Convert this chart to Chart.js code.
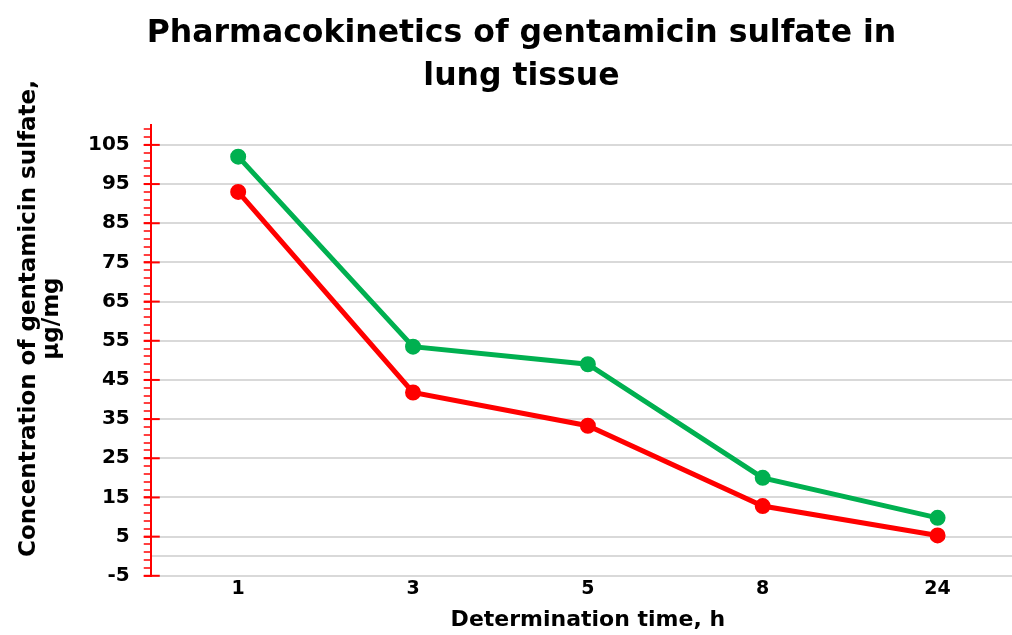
<!DOCTYPE html>
<html>
<head>
    <meta charset="utf-8">
    <script src="https://cdn.jsdelivr.net/npm/chart.js@4.4.7/dist/chart.umd.min.js"></script>
    <style>
        body { margin: 0; overflow: hidden; background: #fff; }
    </style>
</head>
<body>
    <canvas id="wykres" width="1025" height="635"></canvas>
    <script>
        // data
        const czasy = ["1", "3", "5", "8", "24"];
        const seriaZielona = [102, 53.5, 49, 20, 9.8];
        const seriaCzerwona = [93, 41.8, 33.3, 12.8, 5.3];
        const glowneTicki = [-5, 5, 15, 25, 35, 45, 55, 65, 75, 85, 95, 105];

        const FONT = "'DejaVu Sans', sans-serif";
        const SZARY = "#d9d9d9";
        const NB = "\u00A0".repeat(8); // pushes the axis title a bit up, like in the original

        // minor ticks every 2 units, plus 0 for the category axis line
        const wszystkieTicki = [];
        for (let v = -5; v <= 109; v += 2) wszystkieTicki.push(v);
        wszystkieTicki.push(0);
        wszystkieTicki.sort((a, b) => a - b);

        const czyGlowny = v => glowneTicki.includes(v);

        // major tick marks cross the axis into the plot
        const duzeTicki = {
            id: "duzeTicki",
            afterDraw(chart) {
                const y = chart.scales.y;
                const c = chart.ctx;
                c.save();
                c.strokeStyle = "#ff0000";
                c.lineWidth = 2;
                glowneTicki.forEach(v => {
                    const py = y.getPixelForValue(v);
                    c.beginPath();
                    c.moveTo(y.right - 7, py);
                    c.lineTo(y.right + 9, py);
                    c.stroke();
                });
                c.restore();
            }
        };

        const dane = {
            labels: czasy,
            datasets: [{
                data: seriaZielona,
                borderColor: "#00b050",
                backgroundColor: "#00b050",
                borderWidth: 5,
                pointRadius: 5.5,
                pointHoverRadius: 5.5
            }, {
                data: seriaCzerwona,
                borderColor: "#ff0000",
                backgroundColor: "#ff0000",
                borderWidth: 5,
                pointRadius: 5.5,
                pointHoverRadius: 5.5
            }]
        };

        const ctx = document.getElementById("wykres").getContext("2d");
        const wykres = new Chart(ctx, {
            type: "line",
            data: dane,
            plugins: [duzeTicki],
            options: {
                responsive: false,
                animation: false,
                layout: { autoPadding: false, padding: { left: 18, right: 0, top: 0, bottom: 0 } },
                plugins: {
                    legend: { display: false },
                    tooltip: { enabled: false },
                    title: {
                        display: true,
                        text: ["Pharmacokinetics of gentamicin sulfate in", "lung tissue"],
                        color: "#000",
                        font: { family: FONT, size: 31.5, weight: "bold", lineHeight: 1.37 },
                        padding: { top: 12, bottom: 27 }
                    }
                },
                scales: {
                    x: {
                        offset: true,
                        grid: { display: false, drawTicks: false },
                        border: { display: false },
                        ticks: {
                            color: "#000",
                            padding: 2,
                            font: { family: FONT, size: 19, weight: "bold" }
                        },
                        title: {
                            display: true,
                            text: "Determination time, h",
                            color: "#000",
                            font: { family: FONT, size: 22, weight: "bold" },
                            padding: { top: 4, bottom: 2 }
                        }
                    },
                    y: {
                        min: -5,
                        max: 110,
                        afterBuildTicks: s => { s.ticks = wszystkieTicki.map(v => ({ value: v })); },
                        border: { display: true, color: "#ff0000", width: 2 },
                        grid: {
                            lineWidth: 2,
                            color: c => (c.tick && (czyGlowny(c.tick.value) || c.tick.value === 0)) ? SZARY : "rgba(0,0,0,0)",
                            tickColor: c => (c.tick && c.tick.value === 0) ? "rgba(0,0,0,0)" : "#ff0000",
                            tickLength: 7,
                            tickWidth: 1.5
                        },
                        ticks: {
                            autoSkip: false,
                            color: "#000",
                            padding: 14,
                            font: { family: FONT, size: 20, weight: "bold" },
                            callback: v => czyGlowny(v) ? String(v) : ""
                        },
                        title: {
                            display: true,
                            text: [NB + "Concentration of gentamicin sulfate,", NB + "μg/mg"],
                            color: "#000",
                            font: { family: FONT, size: 23, weight: "bold", lineHeight: 1.0 },
                            padding: { top: 0, bottom: 10 }
                        }
                    }
                }
            }
        });
    </script>
</body>
</html>
